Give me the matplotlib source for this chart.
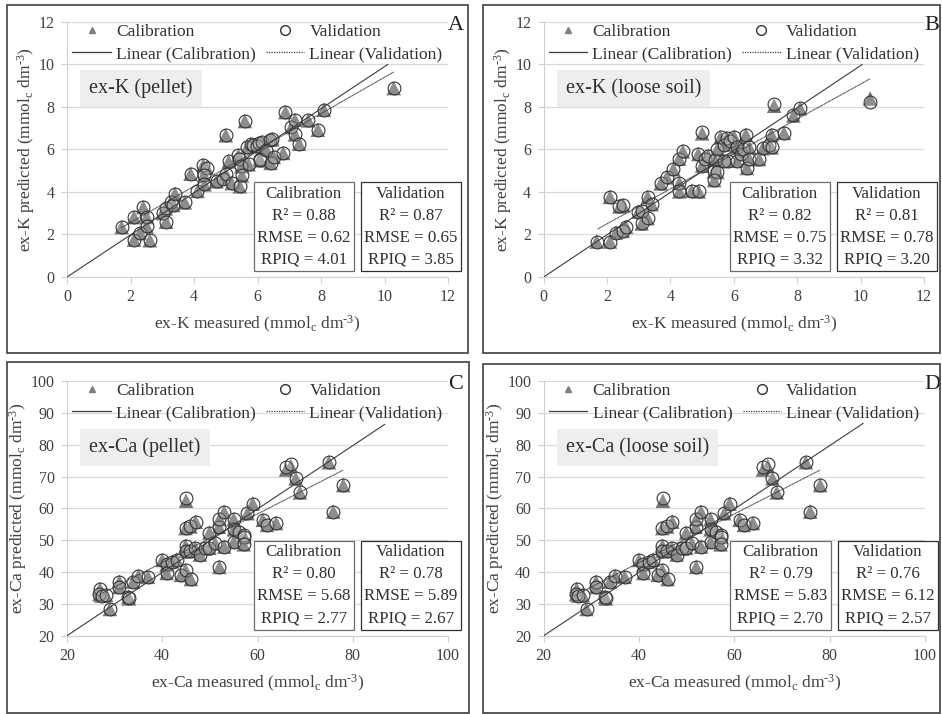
import numpy as np
import matplotlib
matplotlib.use('Agg')
import matplotlib.pyplot as plt
from matplotlib.lines import Line2D
from matplotlib.patches import Rectangle

plt.rcParams['font.family'] = ['Liberation Serif', 'DejaVu Serif']
plt.rcParams['mathtext.fontset'] = 'custom'
plt.rcParams['mathtext.rm'] = 'Liberation Serif'
plt.rcParams['mathtext.it'] = 'Liberation Serif:italic'

# ex-K, pellet
k_pellet_meas = [1.72, 2.11, 2.11, 2.40, 2.51, 2.30, 2.51, 2.61, 3.01, 3.11, 3.12, 3.28, 3.35, 3.40, 3.71, 3.89,
                 4.11, 4.29, 4.40, 4.31, 4.33, 4.71, 4.90, 5.00, 5.00, 5.09, 5.19, 5.40, 5.42, 5.44, 5.49, 5.51,
                 5.60, 5.68, 5.72, 5.78, 5.86, 5.97, 6.05, 6.14, 6.07, 6.09, 6.28, 6.39, 6.47, 6.41, 6.51, 6.81,
                 6.88, 7.07, 7.18, 7.18, 7.31, 7.60, 7.90, 8.09, 10.29]
k_pellet_val = [2.35, 2.82, 1.76, 3.29, 2.82, 2.07, 2.38, 1.73, 3.01, 3.23, 2.60, 3.55, 3.39, 3.92, 3.51, 4.86,
                4.05, 5.27, 5.15, 4.80, 4.36, 4.50, 4.63, 6.67, 4.86, 5.44, 4.42, 5.73, 5.57, 4.27, 5.21, 4.78,
                7.34, 6.12, 5.30, 6.24, 6.20, 6.15, 6.30, 6.35, 5.57, 5.49, 5.99, 6.46, 6.49, 5.37, 5.65, 5.84,
                7.76, 7.06, 7.40, 6.71, 6.27, 7.37, 6.93, 7.87, 8.89]
k_pellet_cal = [2.35, 2.82, 1.76, 3.29, 2.82, 2.07, 2.38, 1.73, 3.01, 3.23, 2.60, 3.55, 3.39, 3.92, 3.51, 4.86,
                4.05, 5.27, 5.15, 4.80, 4.36, 4.50, 4.63, 6.67, 4.86, 5.44, 4.42, 5.73, 5.57, 4.27, 5.21, 4.78,
                7.34, 6.12, 5.30, 6.24, 6.20, 6.15, 6.30, 6.35, 5.57, 5.49, 5.99, 6.46, 6.49, 5.37, 5.65, 5.84,
                7.76, 7.06, 7.40, 6.71, 6.27, 7.37, 6.93, 7.87, 8.89]

# ex-K, loose soil
k_loose_meas = [1.67, 2.09, 2.09, 2.28, 2.39, 2.51, 2.49, 2.60, 2.99, 3.09, 3.09, 3.28, 3.28, 3.41, 3.69, 3.88,
                4.09, 4.27, 4.39, 4.28, 4.28, 4.67, 4.89, 4.88, 5.00, 5.00, 5.10, 5.19, 5.40, 5.37, 5.48, 5.38,
                5.48, 5.58, 5.69, 5.77, 5.80, 5.69, 5.88, 6.01, 6.09, 6.09, 6.22, 6.30, 6.38, 6.41, 6.49, 6.49,
                6.80, 6.91, 7.10, 7.19, 7.19, 7.27, 7.58, 7.88, 8.09, 10.30]
k_loose_val = [1.67, 1.67, 3.77, 2.09, 3.32, 3.37, 2.17, 2.36, 3.08, 3.11, 2.52, 3.77, 2.77, 3.43, 4.40, 4.69,
               5.08, 5.57, 5.91, 4.44, 4.03, 4.06, 4.03, 5.79, 6.83, 5.24, 5.57, 5.71, 5.52, 4.97, 4.94, 4.56,
               6.02, 6.57, 6.23, 6.54, 5.47, 5.47, 6.38, 6.61, 6.10, 5.47, 5.79, 6.02, 6.70, 5.13, 6.10, 5.55,
               5.55, 6.06, 6.23, 6.70, 6.10, 8.12, 6.78, 7.60, 7.94, 8.23]
k_loose_cal = [1.67, 1.67, 3.77, 2.09, 3.32, 3.37, 2.17, 2.36, 3.08, 3.11, 2.52, 3.77, 2.77, 3.43, 4.40, 4.69,
               5.08, 5.57, 5.91, 4.44, 4.03, 4.06, 4.03, 5.79, 6.76, 5.24, 5.57, 5.71, 5.52, 4.97, 4.94, 4.56,
               6.02, 6.57, 6.23, 6.54, 5.47, 5.47, 6.38, 6.61, 6.10, 5.47, 5.79, 6.02, 6.70, 5.13, 6.10, 5.55,
               5.55, 6.06, 6.23, 6.70, 6.10, 8.06, 6.78, 7.60, 7.94, 8.40]

# ex-Ca (pellet and loose soil share the same sample set)
ca_meas = [26.9, 26.8, 27.3, 28.2, 29.0, 31.0, 31.0, 32.9, 33.0, 33.9, 35.0, 37.0, 40.0, 40.9, 40.9, 42.1,
           43.0, 43.9, 44.9, 44.9, 44.9, 44.9, 45.0, 45.9, 45.9, 46.0, 47.0, 46.9, 47.9, 49.0, 49.9, 49.9,
           51.1, 51.9, 52.0, 52.0, 53.0, 53.0, 55.0, 55.0, 55.0, 56.1, 57.1, 57.1, 57.1, 57.9, 59.0, 61.1,
           62.0, 63.9, 66.0, 67.0, 68.0, 68.9, 75.0, 75.9, 78.0]
ca_val = [34.7, 33.0, 32.6, 32.8, 28.4, 37.0, 35.3, 32.3, 31.7, 37.0, 38.8, 38.5, 43.8, 42.4, 39.7, 43.3,
          43.9, 39.1, 40.6, 48.3, 46.6, 53.8, 63.1, 54.3, 46.6, 37.8, 55.8, 47.6, 45.5, 47.4, 52.4, 47.6,
          49.0, 54.2, 56.6, 41.6, 58.9, 48.0, 56.6, 49.5, 53.4, 52.7, 51.6, 51.0, 48.7, 58.5, 61.5, 56.4,
          54.8, 55.4, 73.0, 74.0, 69.4, 65.0, 74.5, 59.0, 67.3]
ca_cal = [34.7, 33.0, 32.6, 32.8, 28.4, 37.0, 35.3, 32.3, 31.7, 37.0, 38.8, 38.5, 43.8, 42.4, 39.7, 43.3,
          43.9, 39.1, 40.6, 48.3, 46.6, 53.8, 62.4, 54.3, 46.6, 37.8, 55.8, 47.6, 45.5, 47.4, 52.4, 47.6,
          49.0, 54.2, 56.6, 41.6, 58.9, 48.0, 56.6, 49.5, 53.4, 52.7, 51.6, 51.0, 48.7, 58.5, 61.5, 56.4,
          54.8, 55.4, 72.2, 73.3, 69.4, 65.0, 74.5, 59.0, 67.3]

# trend lines: slope, intercept, x start, x end
k_pellet_fit_cal = [0.99, 0.0, 0.0, 10.1]
k_pellet_fit_val = [0.855, 0.85, 1.7, 10.3]
k_loose_fit_cal = [0.995, 0.0, 0.0, 10.05]
k_loose_fit_val = [0.822, 0.86, 1.7, 10.3]
ca_pellet_fit_cal = [0.995, 0.1, 20.0, 86.7]
ca_pellet_fit_val = [0.765, 12.35, 27.0, 78.0]
ca_loose_fit_cal = [0.995, 0.1, 20.0, 87.0]
ca_loose_fit_val = [0.765, 12.35, 27.0, 78.0]

# R2, RMSE, RPIQ
k_pellet_stats = [(0.88, 0.62, 4.01), (0.87, 0.65, 3.85)]
k_loose_stats = [(0.82, 0.75, 3.32), (0.81, 0.78, 3.20)]
ca_pellet_stats = [(0.80, 5.68, 2.77), (0.78, 5.89, 2.67)]
ca_loose_stats = [(0.79, 5.83, 2.70), (0.76, 6.12, 2.57)]

k_ticks = [0, 2, 4, 6, 8, 10, 12]
ca_xticks = [20, 40, 60, 80, 100]
ca_yticks = [20, 30, 40, 50, 60, 70, 80, 90, 100]

UNIT = '(mmol$_\\mathrm{c}$ dm$^{\\mathrm{\u2010}\\mathrm{3}}$)'


def stat_text(title, s):
    return f'{title}\nR² = {s[0]:.2f}\nRMSE = {s[1]:.2f}\nRPIQ = {s[2]:.2f}'


def draw_panel(ax, meas, cal, val, fit_cal, fit_val, xticks, yticks, name, stats, letter, elem):
    ax.scatter(meas, cal, marker='^', s=110, color='#757575', edgecolors='none', zorder=3)
    ax.scatter(meas, val, marker='o', s=85, facecolors=(1, 1, 1, 0.18), edgecolors='#333333',
               linewidths=0.8, zorder=4)

    for fit, ls in ((fit_cal, '-'), (fit_val, (0, (1, 0.4)))):
        xs = np.array([fit[2], fit[3]])
        ax.plot(xs, fit[0] * xs + fit[1], color='#3c3c3c', lw=0.8, ls=ls, zorder=5)

    ax.set_xlim(xticks[0], xticks[-1])
    ax.set_ylim(yticks[0], yticks[-1])
    ax.set_xticks(xticks)
    ax.set_yticks(yticks)
    ax.yaxis.grid(True, color='#d9d9d9', lw=0.9)
    ax.set_axisbelow(True)
    for sp in ('top', 'right'):
        ax.spines[sp].set_visible(False)
    for sp in ('left', 'bottom'):
        ax.spines[sp].set_color('#d0d0d0')
    ax.tick_params(length=4, color='#d0d0d0', labelcolor='#404040', labelsize=11.5, pad=5)

    ax.set_xlabel(f'ex-{elem} measured {UNIT}', fontsize=12.5, color='#404040', labelpad=6)
    ax.set_ylabel(f'ex-{elem} predicted {UNIT}', fontsize=12.5, color='#404040', labelpad=1)

    handles = [Line2D([], [], marker='^', color='#7f7f7f', ls='none', ms=5),
               Line2D([], [], color='#3c3c3c', lw=0.9),
               Line2D([], [], marker='o', mfc='white', mec='#333333', ls='none', ms=7),
               Line2D([], [], color='#3c3c3c', lw=0.9, ls=(0, (1, 1)))]
    labels = ['Calibration', 'Linear (Calibration)', 'Validation', 'Linear (Validation)']
    ax.legend(handles, labels, ncol=2, loc='upper center', bbox_to_anchor=(0.5, 1.02), frameon=False,
              fontsize=12.5, handlelength=2.2, handletextpad=0.3, columnspacing=0.6,
              labelspacing=0.35, borderaxespad=0.0, labelcolor='#303030')

    ax.text(0.058, 0.739, name, transform=ax.transAxes, fontsize=14.5, color='#303030',
            ha='left', va='center',
            bbox=dict(boxstyle='square,pad=0.45', fc='#eeeeee', ec='none'), zorder=6)

    box_kw = dict(transform=ax.transAxes, fontsize=12.2, ha='center', va='center',
                  multialignment='center', linespacing=1.5, color='#303030', zorder=7, clip_on=False)
    ax.text(0.621, 0.198, stat_text('Calibration', stats[0]),
            bbox=dict(boxstyle='square,pad=0.2', fc='white', ec='#6e6e6e', lw=0.9), **box_kw)
    ax.text(0.903, 0.198, stat_text('Validation', stats[1]),
            bbox=dict(boxstyle='square,pad=0.2', fc='white', ec='#303030', lw=0.9), **box_kw)

    ax.text(1.02, 0.985, letter, transform=ax.transAxes, fontsize=16, color='#202020',
            ha='center', va='center')


fig = plt.figure(figsize=(9.42, 7.14), dpi=100)

# panel frames (pixel boxes converted to figure fractions)
W, H = 942.0, 714.0
for x0, y0, x1, y1 in [(7, 5, 468, 353), (483, 5, 940, 353), (7, 362, 469, 713), (483, 364, 940, 713)]:
    fig.patches.append(Rectangle((x0 / W, 1 - y1 / H), (x1 - x0) / W, (y1 - y0) / H,
                                 transform=fig.transFigure, fill=False, ec='#404040', lw=1.2))

ax_a = fig.add_axes([67 / W, 1 - 277 / H, 381 / W, 255 / H])
ax_b = fig.add_axes([543.7 / W, 1 - 277 / H, 380.3 / W, 255 / H])
ax_c = fig.add_axes([67 / W, 1 - 635.7 / H, 381 / W, 254.7 / H])
ax_d = fig.add_axes([543.7 / W, 1 - 635.7 / H, 381.3 / W, 254.7 / H])

draw_panel(ax_a, k_pellet_meas, k_pellet_cal, k_pellet_val, k_pellet_fit_cal, k_pellet_fit_val,
           k_ticks, k_ticks, 'ex-K (pellet)', k_pellet_stats, 'A', 'K')
draw_panel(ax_b, k_loose_meas, k_loose_cal, k_loose_val, k_loose_fit_cal, k_loose_fit_val,
           k_ticks, k_ticks, 'ex-K (loose soil)', k_loose_stats, 'B', 'K')
draw_panel(ax_c, ca_meas, ca_cal, ca_val, ca_pellet_fit_cal, ca_pellet_fit_val,
           ca_xticks, ca_yticks, 'ex-Ca (pellet)', ca_pellet_stats, 'C', 'Ca')
draw_panel(ax_d, ca_meas, ca_cal, ca_val, ca_loose_fit_cal, ca_loose_fit_val,
           ca_xticks, ca_yticks, 'ex-Ca (loose soil)', ca_loose_stats, 'D', 'Ca')

fig.savefig('out.png', dpi=100)
